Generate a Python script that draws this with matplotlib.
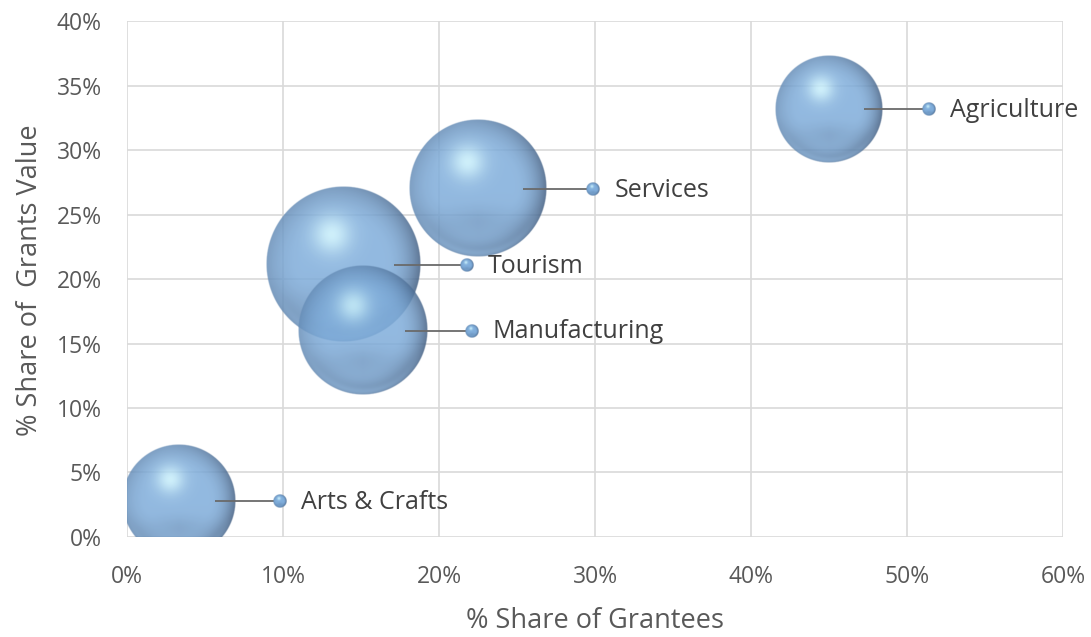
import numpy as np
import matplotlib.pyplot as plt

# data (percent)
sectors = ['Agriculture', 'Services', 'Tourism', 'Manufacturing', 'Arts & Crafts']
share_grantees = [45.0, 22.5, 13.9, 15.1, 3.3]
share_value = [33.2, 27.0, 21.1, 16.0, 2.8]
bubble_size = [29, 47, 60, 42, 32]
label_x = [51.4, 29.9, 21.8, 22.1, 9.8]  # small label-anchor bubbles

plt.rcParams['font.family'] = ['Open Sans', 'DejaVu Sans']

fig = plt.figure(figsize=(10.91, 6.37), dpi=100)
ax = fig.add_axes([0.1164, 0.157, 0.858, 0.81])
ax.set_xlim(0, 60)
ax.set_ylim(0, 40)

px_x = ax.bbox.width / 60.0
px_y = ax.bbox.height / 40.0


def sphere(n, alpha):
    v, u = np.mgrid[1:-1:n * 1j, -1:1:n * 1j]
    r = np.sqrt(u ** 2 + v ** 2)
    base = np.array([0.50, 0.68, 0.86])
    dark = np.array([0.25, 0.36, 0.50])
    # darker towards the right / bottom edge
    dirw = np.clip(0.45 + 0.55 * u - 0.35 * v, 0, 1)
    edge = np.clip((r - 0.5) / 0.5, 0, 1) ** 2.2 * (0.4 + 0.6 * dirw)
    band = np.exp(-((v + 0.5) ** 2) / 0.05) * np.clip(1 - np.abs(u), 0, 1) * 0.25
    d = np.clip(edge + band, 0, 1)
    col = base + (dark - base) * d[..., None]
    # soft highlight upper left
    hl = np.exp(-((u + 0.15) ** 2 + (v - 0.38) ** 2) / 0.06)
    col = col + (np.array([0.82, 0.97, 1.0]) - col) * hl[..., None] * 0.85
    # light reflection rim at bottom
    rim = np.exp(-((r - 0.95) ** 2) / 0.004) * np.clip(-v - 0.3, 0, 1)
    col = col + (np.array([0.55, 0.74, 0.92]) - col) * rim[..., None] * 0.7
    a = np.clip((1 - r) * n / 2.5, 0, 1) * alpha
    return np.dstack([np.clip(col, 0, 1), a])


def draw_ball(xc, yc, r_px, alpha, z):
    n = max(int(r_px * 4), 40)
    dx = r_px / px_x
    dy = r_px / px_y
    ax.imshow(sphere(n, alpha), extent=[xc - dx, xc + dx, yc - dy, yc + dy],
              origin='upper', aspect='auto', interpolation='bilinear', zorder=z)


for i, name in enumerate(sectors):
    r_px = 77.5 * np.sqrt(bubble_size[i] / 60.0)
    xc, yc = share_grantees[i], share_value[i]
    draw_ball(xc, yc, r_px, 0.85, 3 + i)
    # leader line from bubble to label anchor
    x0 = xc + 0.65 * r_px / px_x
    x1 = label_x[i] - 6 / px_x
    ax.plot([x0, x1], [yc, yc], color='#6a6a6a', lw=1.3, zorder=10, solid_capstyle='butt')
    draw_ball(label_x[i], yc, 7, 1.0, 11)
    ax.annotate(name, (label_x[i], yc), xytext=(15, -1), textcoords='offset points',
                ha='left', va='center', fontsize=18, color='#404040', zorder=12)

ax.set_xlim(0, 60)
ax.set_ylim(0, 40)
ax.set_xticks(range(0, 61, 10))
ax.set_xticklabels([f'{v}%' for v in range(0, 61, 10)])
ax.set_yticks(range(0, 41, 5))
ax.set_yticklabels([f'{v}%' for v in range(0, 41, 5)])
ax.tick_params(length=0, labelsize=16.5, labelcolor='#595959')
ax.tick_params(axis='x', pad=20)
ax.tick_params(axis='y', pad=18)
ax.grid(color='#d9d9d9', lw=1.2)
ax.set_axisbelow(True)
for s in ax.spines.values():
    s.set_visible(False)

fig.text(595 / 1091, 1 - 621 / 637, '% Share of Grantees', ha='center', va='center',
         fontsize=19.5, color='#595959')
fig.text(30 / 1091, 1 - 280 / 637, '% Share of  Grants Value', ha='center', va='center',
         rotation=90, fontsize=19.5, color='#595959')

fig.savefig('out.png', dpi=100)
